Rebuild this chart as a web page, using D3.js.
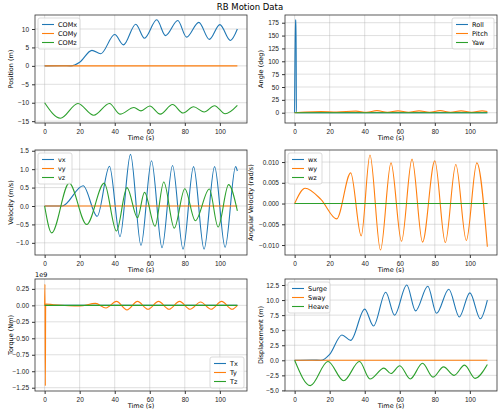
<!DOCTYPE html><html><head><meta charset="utf-8">
<script src="https://cdn.jsdelivr.net/npm/d3@7"></script>
<style>body{margin:0;background:#fff}svg{font-family:"DejaVu Sans",sans-serif}</style></head><body>
<svg id="c" width="500" height="414"></svg>
<script>
const C1="#1f77b4",C2="#ff7f0e",C3="#2ca02c";
// key points [t, value]
const comx=[[0,0],[10,0.05],[15,0],[20,1],[27,4.2],[32,3.3],[40,8.5],[45,5.7],[52,11.3],[57,7.5],[64,12.5],[69,8.2],[76,12.3],[81,7.8],[88,11.8],[94,7.2],[100,11.2],[106,6.9],[110,10]];
const comy=[[0,0],[110,0]];
const comz=[[0,-10],[9,-14.2],[19,-10.2],[28,-13.4],[37,-10.2],[43,-13.1],[51,-11.3],[55,-12.2],[60,-10.9],[66,-13.1],[73,-10.5],[79,-12.8],[85,-11.1],[91,-12.5],[97,-10.8],[103,-13],[110,-10.7]];
const roll=[[0,0],[0.4,180],[0.8,180],[1,0],[110,0]];
const pitch=[[0,0],[6,1.5],[15,2.5],[24,1.5],[35,3],[41,1],[47,4],[53,1],[59,3.5],[65,1],[71,3.5],[77,1],[83,4],[89,1],[95,3.5],[101,1],[107,3.5],[110,2.5]];
const yaw=[[0,0],[110,0]];
const vx=[[0,0],[10,0],[22,0.55],[30,-0.28],[37,1.08],[43,-0.83],[49,1.4],[55,-1.07],[61,1.23],[67,-1.13],[73,1.1],[79,-1.17],[85,1.07],[91,-1.17],[97,1.07],[103,-1.12],[109,1.07],[110,0.95]];
const vy=[[0,0],[110,0]];
const vz=[[0,0],[4,-0.73],[14,0.62],[24,-0.5],[34,0.62],[41,-0.68],[47,0.5],[53,-0.32],[57,0.37],[63,-0.55],[68,0.65],[74,-0.6],[80,0.47],[86,-0.4],[94,0.46],[99,-0.57],[105,0.58],[110,-0.13]];
const wx=[[0,0],[110,0]];
const wy=[[0,0],[6,0.0037],[15,0.001],[24,-0.0037],[32,0.0074],[38,-0.0078],[43,0.0117],[49,-0.0112],[55,0.0098],[61,-0.0091],[67,0.0107],[73,-0.0093],[80,0.0103],[86,-0.0094],[92,0.0094],[98,-0.0089],[104,0.0098],[110,-0.0104]];
const wz=[[0,0],[110,0]];
const tx=[[0,0],[110,0]];
const ty=[[0,0],[0.2,0.32],[0.4,-1.22],[0.6,0.02],[5,0.01],[20,-0.01],[29,0.03],[35,-0.04],[41,0.06],[47,-0.07],[53,0.06],[59,-0.06],[65,0.06],[71,-0.06],[77,0.06],[83,-0.06],[89,0.05],[95,-0.06],[101,0.06],[107,-0.06],[110,0]];
const tz=[[0,0],[110,0]];
const surge=comx, sway=[[0,0],[110,0]];
const heave=[[0,0],[9,-4.2],[19,-0.2],[28,-3.4],[37,-0.2],[43,-3.1],[51,-1.3],[55,-2.2],[60,-0.9],[66,-3.1],[73,-0.5],[79,-2.8],[85,-1.1],[91,-2.5],[97,-0.8],[103,-3],[110,-0.7]];

const panels=[
 {x0:35,x1:247,y0:15,y1:123,dom:[-15.5,13.8],ticks:[-15,-10,-5,0,5,10],fmt:d3.format("d"),yl:"Position (m)",s:[["COMx",comx,C1],["COMy",comy,C2],["COMz",comz,C3]],leg:"tl"},
 {x0:285,x1:497,y0:15,y1:123,dom:[-20,190],ticks:[0,25,50,75,100,125,150,175],fmt:d3.format("d"),yl:"Angle (deg)",s:[["Roll",roll,C1],["Pitch",pitch,C2],["Yaw",yaw,C3]],leg:"tr"},
 {x0:35,x1:247,y0:150,y1:255,dom:[-1.33,1.52],ticks:[-1,-0.5,0,0.5,1,1.5],fmt:d3.format(".1f"),yl:"Velocity (m/s)",s:[["vx",vx,C1],["vy",vy,C2],["vz",vz,C3]],leg:"tl"},
 {x0:285,x1:497,y0:150,y1:255,dom:[-0.0124,0.0129],ticks:[-0.01,-0.005,0,0.005,0.01],fmt:d3.format(".3f"),yl:"Angular Velocity (rad/s)",s:[["wx",wx,C1],["wy",wy,C2],["wz",wz,C3]],leg:"tl"},
 {x0:35,x1:247,y0:279,y1:391,dom:[-1.3,0.4],ticks:[-1.25,-1,-0.75,-0.5,-0.25,0,0.25],fmt:d3.format(".2f"),yl:"Torque (Nm)",s:[["Tx",tx,C1],["Ty",ty,C2],["Tz",tz,C3]],leg:"br",exp:"1e9"},
 {x0:285,x1:497,y0:279,y1:391,dom:[-5.1,13.5],ticks:[-5,-2.5,0,2.5,5,7.5,10,12.5],fmt:d3.format(".1f"),yl:"Displacement (m)",s:[["Surge",surge,C1],["Sway",sway,C2],["Heave",heave,C3]],leg:"tl"}
];
const svg=d3.select("#c");
svg.append("text").attr("x",250).attr("y",10).attr("text-anchor","middle").attr("font-size",8.5).text("RB Motion Data");
panels.forEach(p=>{
 const x=d3.scaleLinear().domain([-5.5,115.5]).range([p.x0,p.x1]);
 const y=d3.scaleLinear().domain(p.dom).range([p.y1,p.y0]);
 const g=svg.append("g");
 const gx=g.append("g").attr("transform",`translate(0,${p.y1})`).call(d3.axisBottom(x).tickValues([0,20,40,60,80,100]).tickSize(3).tickFormat(d3.format("d")));
 const gy=g.append("g").attr("transform",`translate(${p.x0},0)`).call(d3.axisLeft(y).tickValues(p.ticks).tickSize(3).tickFormat(d=>p.fmt(d).replace("-","−")));
 [gx,gy].forEach(a=>{a.select(".domain").remove();a.selectAll("text").attr("font-size",6.5).attr("fill","#222");a.selectAll("line").attr("stroke","#333");});
 g.selectAll(".gv").data([0,20,40,60,80,100]).join("line").attr("x1",d=>x(d)).attr("x2",d=>x(d)).attr("y1",p.y0).attr("y2",p.y1).attr("stroke","#b0b0b0").attr("stroke-opacity",0.5).attr("stroke-width",0.8);
 g.selectAll(".gh").data(p.ticks).join("line").attr("y1",d=>y(d)).attr("y2",d=>y(d)).attr("x1",p.x0).attr("x2",p.x1).attr("stroke","#b0b0b0").attr("stroke-opacity",0.5).attr("stroke-width",0.8);
 const ln=d3.line().x(d=>x(d[0])).y(d=>y(d[1])).curve(d3.curveMonotoneX);
 p.s.forEach(s=>g.append("path").attr("d",ln(s[1])).attr("fill","none").attr("stroke",s[2]).attr("stroke-width",1.1));
 g.append("rect").attr("x",p.x0).attr("y",p.y0).attr("width",p.x1-p.x0).attr("height",p.y1-p.y0).attr("fill","none").attr("stroke","#333").attr("stroke-width",0.8);
 g.append("text").attr("x",(p.x0+p.x1)/2).attr("y",p.y1+17).attr("text-anchor","middle").attr("font-size",6.5).text("Time (s)");
 const ylx=p.x0-(p.yl.startsWith("Angular")?32:22);
 g.append("text").attr("transform",`translate(${ylx},${(p.y0+p.y1)/2}) rotate(-90)`).attr("text-anchor","middle").attr("font-size",6.5).text(p.yl);
 if(p.exp) g.append("text").attr("x",p.x0).attr("y",p.y0-2).attr("font-size",6.5).text(p.exp);
 const lw=p.s[0][0].length>3?42:34,lh=31;
 const lx=p.leg.endsWith("r")?p.x1-lw-3:p.x0+3, ly=p.leg.startsWith("b")?p.y1-lh-3:p.y0+3;
 const lg=g.append("g").attr("transform",`translate(${lx},${ly})`);
 lg.append("rect").attr("width",lw).attr("height",lh).attr("rx",2).attr("fill","#fff").attr("fill-opacity",0.8).attr("stroke","#ccc").attr("stroke-width",0.7);
 p.s.forEach((s,i)=>{lg.append("line").attr("x1",4).attr("x2",16).attr("y1",6.5+i*9).attr("y2",6.5+i*9).attr("stroke",s[2]).attr("stroke-width",1.1);
  lg.append("text").attr("x",20).attr("y",9+i*9).attr("font-size",6.5).text(s[0]);});
});
</script></body></html>
